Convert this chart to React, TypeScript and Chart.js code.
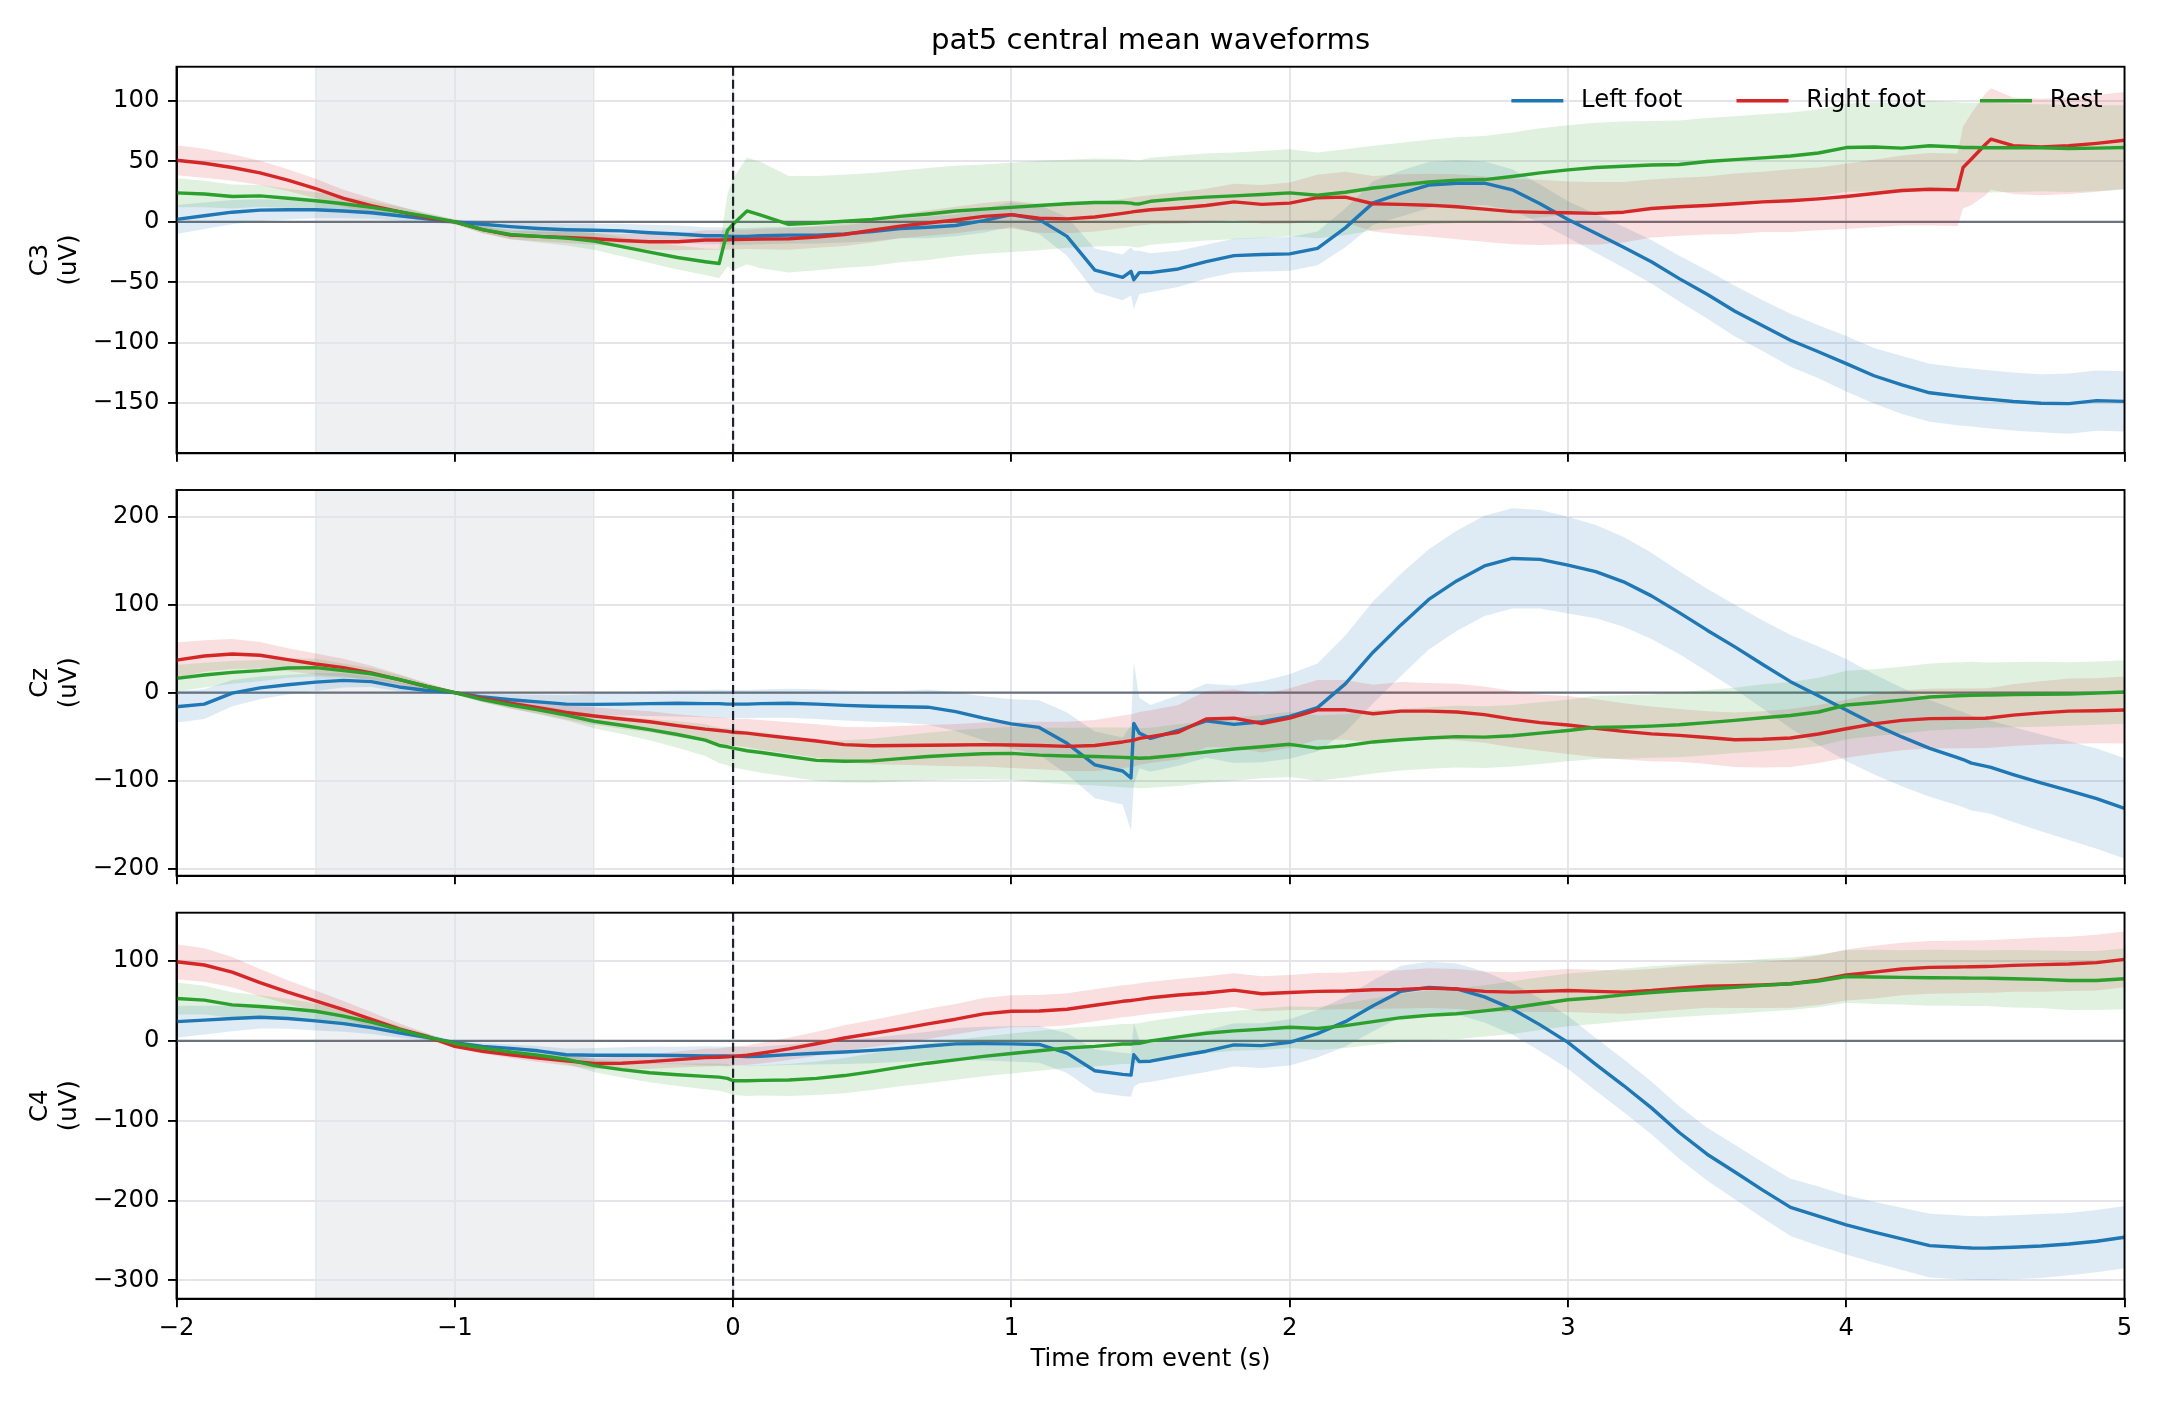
import React, { useEffect, useRef } from "react";
import { Chart, registerables } from "chart.js";

Chart.register(...registerables);

// ---------------------------------------------------------------------------
// Data: mean waveform and spread (half-width of the shaded band) per condition
// Rows inside each array follow the segments of TIME.
// ---------------------------------------------------------------------------

const TIME = [
  -2, -1.9, -1.8, -1.7, -1.6, -1.5, -1.4, -1.3, -1.2, -1.1, -1, -0.9, -0.8, -0.7, -0.6, -0.5, -0.4, -0.3, -0.2, -0.1,
  -0.05, -0.02, 0, 0.05,
  0.1, 0.2, 0.3, 0.4, 0.5, 0.6, 0.7, 0.8, 0.9, 1, 1.1, 1.2, 1.3, 1.4,
  1.43, 1.44, 1.46,
  1.5, 1.6, 1.7, 1.8, 1.9, 2, 2.1, 2.2, 2.3, 2.4, 2.5, 2.6, 2.7, 2.8, 2.9, 3, 3.1, 3.2, 3.3, 3.4, 3.5, 3.6, 3.7, 3.8, 3.9, 4, 4.1, 4.2, 4.3, 4.4,
  4.42, 4.45, 4.5, 4.52,
  4.6, 4.7, 4.8, 4.9, 5,
];

// C3
const C3_LEFT = [
  2, 5, 8, 9.7, 10, 10, 9, 7.5, 5, 2.5, 0, -2, -4, -5.5, -6.5, -7, -7.5, -9, -10, -11.5,
  -11.5, -11.8, -12, -12,
  -11.5, -11, -11, -10, -8, -5.5, -4.5, -3, 1, 6, 2, -12, -40, -46,
  -41, -48, -42,
  -42, -39, -33, -28, -27, -26.5, -22, -5, 15.7, 23.5, 30.5, 32, 32, 26.5, 15, 2, -9.5, -21, -33, -47, -60, -74, -86, -98, -107.5, -117.4, -127.4, -135, -141.5, -144.3,
  -144.8, -145.5, -146.6, -147,
  -148.7, -150.2, -150.5, -148, -148.6,
];
const C3_LEFT_SD = [
  12, 11, 10, 9, 8, 7, 6, 5, 4, 3, 2, 3, 4, 4.5, 5, 5.5, 6, 6.5, 7, 7,
  7, 7, 7, 7,
  7, 7, 7, 7, 8, 8, 9, 9, 10, 10, 12, 16, 18, 19,
  20, 24, 18,
  16, 15, 14, 14, 14, 14, 14, 16, 18, 19, 19, 19, 18, 17, 16, 15, 16, 17, 18, 19, 20, 21, 21, 22, 22, 23, 23, 24, 24, 24,
  24, 24, 24, 24,
  24, 24, 25, 25, 25,
];
const C3_RIGHT = [
  51, 48.5, 45, 40.5, 34.5, 27.6, 19.5, 13.5, 8.5, 3.5, 0, -6.5, -11, -12, -13, -14, -15.5, -16.5, -16.5, -15,
  -15, -14.8, -14.6, -14.5,
  -14.2, -14, -12.5, -10.5, -7, -3.5, -1, 1.5, 4.5, 6, 3, 2.5, 4, 7,
  8, 8.5, 9,
  10, 11.5, 13.5, 16.5, 14.5, 15.5, 20, 20.5, 15, 14.5, 13.8, 12.5, 10.5, 8.5, 7.8, 7.5, 7, 8, 11, 12.5, 13.5, 15, 16.5, 17.5, 19, 21, 23.5, 26, 27, 26.5,
  45, 52, 64, 68.5,
  63, 62, 63, 65, 67.5,
];
const C3_RIGHT_SD = [
  12.5, 12, 11, 10, 9, 8, 7, 6, 4.5, 3, 2, 3, 3.5, 4, 4.5, 5, 5.5, 6.5, 7, 8,
  8, 8, 8, 8,
  8.5, 9, 9, 9.5, 10, 10, 10.5, 11, 11, 11.5, 12, 12, 12, 12,
  12, 12, 12,
  12, 13, 14, 15, 16, 17, 19, 21, 23, 25, 26, 27, 27, 27, 27, 26, 26, 25, 24, 24, 24, 25, 25, 26, 26, 27, 28, 29, 30, 30,
  34, 38, 42, 42,
  40, 40, 40, 40, 40,
];
const C3_REST = [
  24, 23, 21, 21.5, 19.5, 17.5, 15, 12, 8.5, 4.5, 0, -6.5, -10.5, -12, -13.5, -16, -20.5, -25, -29.5, -33,
  -34.5, -7, -2, 9,
  5.5, -2, -1, 0.5, 2, 4.5, 6.5, 9, 10.5, 12, 13.5, 15, 16, 16,
  15.5, 15, 14.8,
  17, 19, 20.5, 21.5, 22.6, 24, 22, 24.5, 28, 30.5, 33, 34.5, 35, 37.5, 40.5, 43, 45, 46, 47, 47.5, 50, 51.5, 53, 54.5, 57, 61.5, 62, 61, 63, 62,
  61.5, 61.5, 61.3, 61.3,
  61.3, 61.3, 60.7, 61, 61.6,
];
const C3_REST_SD = [
  12, 11, 10, 9, 8, 7, 6, 5, 4, 3, 2, 3, 4, 5, 6, 7, 8, 9, 10, 11,
  12, 30, 38, 44,
  44, 40, 39, 38.5, 38.5, 38, 38, 37.5, 37, 37, 37, 36.5, 36.5, 36,
  36, 36, 36,
  36, 36, 36, 36, 36, 36, 35.5, 35.5, 35, 35, 35, 35.5, 36, 36.5, 37, 37, 37, 37, 36.5, 36.5, 36, 36, 36, 36, 36, 36.5, 37, 37, 37, 37,
  37, 37, 37, 37,
  36.5, 36, 36, 35.5, 35,
];

// Cz
const CZ_LEFT = [
  -16, -13, -0.5, 5.5, 9, 12, 14, 12.5, 6.5, 2.5, 0, -5, -8, -10.5, -13, -13.3, -13, -12.5, -12, -12.5,
  -12.5, -13, -13, -13,
  -12.5, -12, -13, -14.5, -15.5, -16, -16.5, -21.5, -29, -35.5, -39.5, -57.6, -82, -89,
  -97, -35, -46,
  -52, -43, -32, -36, -33, -27, -17, 10, 46, 77, 106, 127, 144, 152.5, 151.5, 145, 137.5, 126, 110, 91, 71, 52, 32, 12.5, -3.5, -19.7, -36, -50.3, -63.3, -73.9,
  -76, -80, -83.5, -85,
  -93.1, -102.6, -111.3, -120.5, -131.4,
];
const CZ_LEFT_SD = [
  18, 17, 15, 13, 11, 10, 8, 6, 5, 3.5, 2, 4, 6, 8, 10, 12, 13, 14, 15, 15.5,
  16, 16, 16, 16,
  16, 16.5, 17, 17, 17.5, 18, 20, 22, 25, 28, 31, 35, 38, 38,
  60, 70, 40,
  38, 40, 42, 44, 46, 48, 50, 55, 58, 58, 57, 57, 57, 57, 56, 55, 53, 51, 49, 47, 47, 48, 50, 53, 56, 58, 57, 56, 55, 54,
  54, 54, 53, 53,
  54, 55, 56, 57, 57,
];
const CZ_RIGHT = [
  37, 41.7, 44, 42.5, 37.5, 32.6, 28.5, 22.5, 14.8, 7, 0, -6.5, -12, -17, -22.5, -26.5, -30, -33, -37.5, -41.5,
  -43, -44, -45, -46,
  -48, -51.5, -55, -59, -60.3, -60, -59.8, -59.5, -59, -59.5, -60, -61, -60, -56,
  -54.5, -54, -52,
  -50, -45, -30, -29, -35, -29, -19.5, -19.5, -24, -21, -21, -22, -25, -30, -34, -36.7, -40.5, -44, -46.8, -48.5, -51, -53.5, -53, -51.5, -47, -41, -35.5, -31.5, -29.5, -29.2,
  -29.2, -29.2, -29, -28.5,
  -25.5, -23, -21, -20.5, -19.7,
];
const CZ_RIGHT_SD = [
  20, 18, 17, 15, 13, 12, 10, 8, 6, 4, 2, 4, 6, 7, 8, 10, 11, 12, 13, 14,
  15, 15, 15, 16,
  17, 18, 19, 20, 21, 22, 23, 24, 25, 26, 27, 28, 29, 30,
  30, 30, 30,
  30, 31, 32, 33, 33, 34, 34, 34, 33, 33, 32, 32, 32, 32, 32, 33, 33, 32, 31, 30, 30, 31, 32, 33, 33, 33, 34, 34, 34, 34,
  34, 34, 34, 34,
  35, 36, 37, 37, 38,
];
const CZ_REST = [
  16.3, 20, 23, 25, 28, 28.5, 25, 21.5, 15, 7, 0, -8, -14, -19.5, -25.5, -32.5, -37, -42, -47.5, -54,
  -60, -61.5, -63, -66,
  -68, -72.5, -77, -78, -77.5, -75, -72.5, -70.8, -69.5, -69, -71, -72, -72.5, -73.5,
  -74, -74, -74.5,
  -74, -71, -67.5, -64, -61.4, -58.7, -63, -60.5, -56, -53.5, -51.5, -50, -50.5, -49, -46, -43, -39.4, -39, -38, -36.5, -34, -31.5, -28.5, -26, -22, -14, -11.5, -8.5, -5, -3.5,
  -3.3, -3, -2.7, -2.6,
  -2.2, -1.8, -1.5, -0.5, 0.8,
];
const CZ_REST_SD = [
  15, 14, 13, 12, 11, 10, 8, 6.5, 5, 3.5, 2, 3, 4, 5, 6, 8, 10, 12, 15, 18,
  20, 21, 22, 22,
  23, 23, 23, 24, 25, 26, 27, 28, 29, 30, 31, 32, 33, 34,
  34, 34, 34,
  34, 35, 35, 36, 36, 37, 37, 36, 36, 35, 35, 35, 35, 35, 35, 35, 36, 36, 36, 37, 37, 37, 38, 38, 39, 39, 38, 38, 38, 38,
  38, 38, 37, 37,
  37, 37, 36, 36, 36,
];

// C4
const C4_LEFT = [
  24, 26, 28, 29.5, 28, 25, 21.5, 16.5, 10, 4.5, -2.3, -7, -9.5, -12.5, -17.5, -18, -18, -18, -18.3, -18.8,
  -19, -19, -19.2, -19.6,
  -19.3, -17.3, -15.5, -14, -12, -9.5, -6.5, -3.8, -3.5, -3.8, -4.5, -15.4, -37.5, -42,
  -43, -17.5, -26,
  -25.5, -19, -13, -5, -6, -2, 9, 24, 44, 62, 67, 65, 55, 40, 20, -2, -29.5, -56, -84, -114.8, -142, -164.3, -187, -208.6, -219.6, -230.5, -239.5, -248, -256.5, -258.6,
  -259, -259.5, -259.7, -259.5,
  -258.5, -257, -254.5, -251, -246,
];
const C4_LEFT_SD = [
  20, 18, 16, 14, 13, 12, 10, 8, 6, 4, 2, 4, 5, 6, 8, 9, 10, 11, 11, 12,
  12, 12, 12, 12,
  12, 13, 14, 15, 16, 17, 18, 20, 21, 22, 23, 25, 27, 27,
  27, 40, 27,
  26, 26, 26, 27, 28, 29, 30, 31, 32, 32, 32, 32, 32, 32, 33, 33, 33, 33, 33, 33, 33, 34, 35, 36, 37, 37, 38, 39, 40, 40,
  40, 40, 40, 40,
  40, 40, 39, 39, 39,
];
const C4_RIGHT = [
  99, 95, 86, 73, 61, 50, 39, 27, 15, 5.5, -7, -13, -17.5, -21.5, -25, -28.4, -28, -26, -23.5, -21,
  -20.5, -20, -19.5, -18,
  -15.5, -10, -3.6, 3.5, 9.2, 15, 21.3, 27.1, 33.7, 37, 37.4, 39.5, 44.6, 49.5,
  50.5, 51, 52,
  54, 57.4, 60, 63.5, 59, 60.5, 62, 62.5, 64, 64.5, 66, 65, 62, 61, 62, 63, 62, 61, 63, 66, 68.5, 69, 70, 71.5, 76, 82.5, 86, 90, 92, 92.5,
  92.6, 92.8, 93.1, 93.3,
  94.5, 95.5, 96.3, 98, 102,
];
const C4_RIGHT_SD = [
  22, 21, 19, 17, 15, 13, 11, 9, 7, 4, 2, 3, 4, 5, 6, 7, 8, 9, 10, 11,
  11, 12, 12, 12,
  13, 14, 15, 16, 17, 18, 19, 19, 20, 20, 20, 20, 20, 20,
  20, 20, 20,
  20, 20, 21, 21, 22, 22, 23, 23, 24, 24, 25, 25, 25, 25, 26, 27, 27, 27, 27, 27, 27, 28, 29, 30, 31, 32, 33, 33, 33, 33,
  33, 33, 33, 33,
  33, 34, 34, 35, 35,
];
const C4_REST = [
  53, 51, 45, 43, 40.5, 37, 31, 23.5, 14, 5, -3.3, -9, -13.8, -18, -23, -31, -36, -40, -42.5, -44.5,
  -45.5, -47, -50, -50,
  -49.5, -49, -47, -43.5, -38.5, -33, -28, -23.8, -19.5, -15.8, -12.5, -9, -7, -4,
  -4, -3.5, -3,
  0, 5, 9.5, 12.5, 14.6, 17, 15.5, 19, 24, 29, 32, 34, 37.5, 41.5, 46.5, 51.4, 54, 57.5, 60.5, 63, 65, 67, 69.5, 71.5, 75, 80.6, 80, 79.5, 79, 78.8,
  78.7, 78.6, 78.5, 78.4,
  77.8, 77, 75.5, 75.5, 77.7,
];
const C4_REST_SD = [
  20, 18, 16, 14, 12, 10, 8, 6.5, 5, 3.5, 2, 3, 4, 5, 6, 8, 10, 12, 14, 16,
  17, 18, 18, 19,
  19, 20, 21, 22, 23, 24, 25, 25, 25, 25, 25, 25, 25, 25,
  25, 25, 25,
  25, 25, 25, 25, 26, 26, 27, 28, 29, 30, 31, 32, 32, 33, 33, 33, 33, 33, 33, 33, 33, 33, 33, 33, 33, 33, 34, 34, 35, 35,
  35, 35, 35, 35,
  36, 36, 37, 37, 38,
];

const CONDITIONS = ["Left foot", "Right foot", "Rest"];
const TITLE = "pat5 central mean waveforms";
const X_LABEL = "Time from event (s)";
const Y_UNIT = "(uV)";

const C3_LIMITS = [-191.6, 128.4];
const CZ_LIMITS = [-208, 230.3];
const C4_LIMITS = [-323, 160.5];
const C3_TICKS = [-150, -100, -50, 0, 50, 100];
const CZ_TICKS = [-200, -100, 0, 100, 200];
const C4_TICKS = [-300, -200, -100, 0, 100];
const TIME_LIMITS = [-2, 5];
const TIME_TICKS = [-2, -1, 0, 1, 2, 3, 4, 5];
const BASELINE_WINDOW = [-1.5, -0.5];
const EVENT_TIME = 0;

const PANELS = [
  { channel: "C3", means: [C3_LEFT, C3_RIGHT, C3_REST], spreads: [C3_LEFT_SD, C3_RIGHT_SD, C3_REST_SD], limits: C3_LIMITS, ticks: C3_TICKS },
  { channel: "Cz", means: [CZ_LEFT, CZ_RIGHT, CZ_REST], spreads: [CZ_LEFT_SD, CZ_RIGHT_SD, CZ_REST_SD], limits: CZ_LIMITS, ticks: CZ_TICKS },
  { channel: "C4", means: [C4_LEFT, C4_RIGHT, C4_REST], spreads: [C4_LEFT_SD, C4_RIGHT_SD, C4_REST_SD], limits: C4_LIMITS, ticks: C4_TICKS },
];

// ---------------------------------------------------------------------------
// Styling and layout
// ---------------------------------------------------------------------------

const FONT_FAMILY = "'DejaVu Sans', sans-serif";
const TEXT_SIZE = 24.3;
const TITLE_SIZE = 29.2;
const LINE_WIDTH = 3.4;
const LINE_COLORS = ["#1f77b4", "#d62728", "#2ca02c"];
const BAND_COLORS = ["rgba(31,119,180,0.15)", "rgba(214,39,40,0.15)", "rgba(44,160,44,0.15)"];
const GRID_COLOR = "#e4e4ea";
const SHADE_COLOR = "rgba(112,128,144,0.12)";
const ZERO_COLOR = "#6c727c";
const EVENT_COLOR = "#1e2229";
const AXIS_WIDTH = 1.9;
const TICK_LENGTH = 8.5;

// Canvases overlap slightly; each is transparent outside what it draws.
const CANVAS_WIDTH = 2160;
const PLOT_LEFT = 176.5;
const PLOT_RIGHT_GAP = 35.5;
const FRAMES = [
  { top: 0, height: 480, padTop: 0, axisHeight: 26.7 },
  { top: 465, height: 436, padTop: 25, axisHeight: 25.3 },
  { top: 887, height: 517, padTop: 25.7, axisHeight: 105.3 },
];

Chart.defaults.font.family = FONT_FAMILY;
Chart.defaults.color = "#000";

const formatTick = (v: number) => (v < 0 ? "\u2212" + Math.abs(v) : String(v));

function drawLegend(chart: any) {
  const { ctx, chartArea: a } = chart;
  const items = chart.data.datasets.filter((d: any) => !d.band);
  const em = TEXT_SIZE;
  const y = a.top + 34;
  let right = a.right - 0.9 * em;
  ctx.save();
  ctx.font = `${em}px ${FONT_FAMILY}`;
  ctx.textBaseline = "middle";
  ctx.textAlign = "left";
  for (let i = items.length - 1; i >= 0; i--) {
    const d = items[i];
    const w = ctx.measureText(d.label).width;
    const textX = right - w;
    const lineEnd = textX - 0.8 * em;
    const lineStart = lineEnd - 2 * em;
    ctx.fillStyle = "#000";
    ctx.fillText(d.label, textX, y);
    ctx.strokeStyle = d.borderColor;
    ctx.lineWidth = LINE_WIDTH;
    ctx.lineCap = "square";
    ctx.beginPath();
    ctx.moveTo(lineStart, y);
    ctx.lineTo(lineEnd, y);
    ctx.stroke();
    right = lineStart - 2.3 * em;
  }
  ctx.restore();
}

const decorations = {
  id: "decorations",
  beforeDraw(chart: any) {
    const { ctx, chartArea: a, scales } = chart;
    const x0 = scales.x.getPixelForValue(BASELINE_WINDOW[0]);
    const x1 = scales.x.getPixelForValue(BASELINE_WINDOW[1]);
    ctx.save();
    ctx.fillStyle = SHADE_COLOR;
    ctx.fillRect(x0, a.top, x1 - x0, a.bottom - a.top);
    ctx.strokeStyle = SHADE_COLOR;
    ctx.lineWidth = 1.5;
    ctx.beginPath();
    ctx.moveTo(x0, a.top);
    ctx.lineTo(x0, a.bottom);
    ctx.moveTo(x1, a.top);
    ctx.lineTo(x1, a.bottom);
    ctx.stroke();
    ctx.restore();
  },
  beforeDatasetsDraw(chart: any) {
    const { ctx, chartArea: a, scales } = chart;
    const y0 = scales.y.getPixelForValue(0);
    ctx.save();
    ctx.strokeStyle = ZERO_COLOR;
    ctx.lineWidth = 2.2;
    ctx.beginPath();
    ctx.moveTo(a.left, y0);
    ctx.lineTo(a.right, y0);
    ctx.stroke();
    ctx.restore();
  },
  afterDatasetsDraw(chart: any, _args: any, opts: any) {
    const { ctx, chartArea: a, scales } = chart;
    const xe = scales.x.getPixelForValue(EVENT_TIME);
    ctx.save();
    ctx.strokeStyle = EVENT_COLOR;
    ctx.lineWidth = 2.2;
    ctx.setLineDash([9, 4]);
    ctx.beginPath();
    ctx.moveTo(xe, a.top);
    ctx.lineTo(xe, a.bottom);
    ctx.stroke();
    ctx.restore();
    if (opts && opts.legend) drawLegend(chart);
  },
  afterDraw(chart: any) {
    const { ctx, chartArea: a } = chart;
    ctx.save();
    ctx.strokeStyle = "#000";
    ctx.lineWidth = AXIS_WIDTH;
    ctx.strokeRect(a.left, a.top, a.right - a.left, a.bottom - a.top);
    ctx.restore();
  },
};

function buildConfig(index: number): any {
  const panel = PANELS[index];
  const frame = FRAMES[index];
  const isFirst = index === 0;
  const isLast = index === PANELS.length - 1;
  const font = { family: FONT_FAMILY, size: TEXT_SIZE };

  const datasets: any[] = [];
  panel.means.forEach((mean, s) => {
    const sd = panel.spreads[s];
    const common = {
      borderColor: "rgba(0,0,0,0)",
      borderWidth: 0,
      pointRadius: 0,
      pointHoverRadius: 0,
      tension: 0,
      order: 10 - s,
      band: true,
    };
    datasets.push({
      ...common,
      label: `${CONDITIONS[s]} upper`,
      data: TIME.map((t, k) => ({ x: t, y: mean[k] + sd[k] })),
      fill: "+1",
      backgroundColor: BAND_COLORS[s],
    });
    datasets.push({
      ...common,
      label: `${CONDITIONS[s]} lower`,
      data: TIME.map((t, k) => ({ x: t, y: mean[k] - sd[k] })),
      fill: false,
      backgroundColor: BAND_COLORS[s],
    });
  });
  panel.means.forEach((mean, s) => {
    datasets.push({
      label: CONDITIONS[s],
      data: TIME.map((t, k) => ({ x: t, y: mean[k] })),
      borderColor: LINE_COLORS[s],
      backgroundColor: LINE_COLORS[s],
      borderWidth: LINE_WIDTH,
      pointRadius: 0,
      pointHoverRadius: 0,
      fill: false,
      tension: 0,
      borderJoinStyle: "round",
      borderCapStyle: "round",
      order: 3 - s,
    });
  });

  return {
    type: "line",
    data: { datasets },
    plugins: [decorations],
    options: {
      responsive: false,
      animation: false,
      devicePixelRatio: 1,
      events: [],
      layout: {
        padding: { top: frame.padTop, right: PLOT_RIGHT_GAP, bottom: 0, left: 0 },
        autoPadding: false,
      },
      plugins: {
        legend: { display: false },
        tooltip: { enabled: false },
        title: {
          display: isFirst,
          text: TITLE,
          fullSize: false,
          color: "#000",
          font: { family: FONT_FAMILY, size: TITLE_SIZE, weight: "normal" },
          padding: { top: 23.8, bottom: 7.9 },
        },
        decorations: { legend: isFirst },
      },
      scales: {
        x: {
          type: "linear",
          min: TIME_LIMITS[0],
          max: TIME_LIMITS[1],
          afterBuildTicks: (scale: any) => {
            scale.ticks = TIME_TICKS.map((v) => ({ value: v }));
          },
          afterFit: (scale: any) => {
            scale.height = frame.axisHeight;
          },
          grid: {
            color: GRID_COLOR,
            lineWidth: AXIS_WIDTH,
            tickColor: "#000",
            tickWidth: AXIS_WIDTH,
            tickLength: TICK_LENGTH,
            drawTicks: true,
          },
          border: { display: true, color: "#000", width: AXIS_WIDTH },
          ticks: {
            display: isLast,
            padding: 7,
            color: "#000",
            font,
            maxRotation: 0,
            autoSkip: false,
            callback: (v: number) => formatTick(v),
          },
          title: {
            display: isLast,
            text: X_LABEL,
            color: "#000",
            font,
            padding: { top: 0, bottom: 29.6 },
          },
        },
        y: {
          type: "linear",
          min: panel.limits[0],
          max: panel.limits[1],
          afterBuildTicks: (scale: any) => {
            scale.ticks = panel.ticks.map((v) => ({ value: v }));
          },
          afterFit: (scale: any) => {
            scale.width = PLOT_LEFT;
          },
          grid: {
            color: GRID_COLOR,
            lineWidth: AXIS_WIDTH,
            tickColor: "#000",
            tickWidth: AXIS_WIDTH,
            tickLength: TICK_LENGTH,
            drawTicks: true,
          },
          border: { display: true, color: "#000", width: AXIS_WIDTH },
          ticks: {
            padding: 8.5,
            color: "#000",
            font,
            autoSkip: false,
            callback: (v: number) => formatTick(v),
          },
          title: {
            display: true,
            text: [panel.channel, Y_UNIT],
            color: "#000",
            font,
            padding: { top: 26.4, bottom: 0 },
          },
        },
      },
    },
  };
}

function PanelChart({ index }: { index: number }) {
  const ref = useRef<HTMLCanvasElement | null>(null);
  const frame = FRAMES[index];
  useEffect(() => {
    if (!ref.current) return;
    const chart = new Chart(ref.current, buildConfig(index));
    return () => chart.destroy();
  }, [index]);
  return (
    <canvas
      ref={ref}
      width={CANVAS_WIDTH}
      height={frame.height}
      style={{
        position: "absolute",
        left: 0,
        top: frame.top,
        width: CANVAS_WIDTH,
        height: frame.height,
        display: "block",
      }}
    />
  );
}

export default function App() {
  return (
    <div
      style={{
        position: "fixed",
        left: 0,
        top: 0,
        width: CANVAS_WIDTH,
        height: 1404,
        background: "#ffffff",
        overflow: "hidden",
      }}
    >
      {PANELS.map((_, i) => (
        <PanelChart key={i} index={i} />
      ))}
    </div>
  );
}
